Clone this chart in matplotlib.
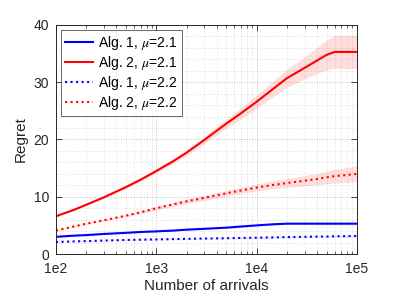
import matplotlib
matplotlib.use('Agg')
import matplotlib.pyplot as plt
import numpy as np

plt.rcParams['font.family'] = ['Liberation Sans', 'DejaVu Sans']
plt.rcParams['mathtext.fontset'] = 'stix'

# number of arrivals
arrivals = [100, 150, 200, 300, 500, 700, 1000, 1500, 2000, 3000, 5000, 7000,
            10000, 15000, 20000, 30000, 40000, 50000, 60000, 70000, 100000]

# mean regret
alg1_mu21 = [3.0, 3.2, 3.3, 3.5, 3.7, 3.85, 3.95, 4.1, 4.25, 4.4, 4.6, 4.8,
             5.0, 5.2, 5.3, 5.3, 5.3, 5.3, 5.3, 5.3, 5.3]
alg2_mu21 = [6.6, 7.7, 8.6, 9.9, 11.7, 13.0, 14.5, 16.3, 17.7, 19.9, 22.8, 24.6,
             26.6, 29.0, 30.7, 32.5, 33.8, 34.8, 35.3, 35.3, 35.3]
alg1_mu22 = [2.1, 2.2, 2.25, 2.35, 2.45, 2.5, 2.55, 2.6, 2.65, 2.7, 2.75, 2.8,
             2.85, 2.9, 2.95, 3.0, 3.05, 3.05, 3.1, 3.1, 3.15]
alg2_mu22 = [4.1, 4.8, 5.3, 5.9, 6.7, 7.3, 8.0, 8.7, 9.2, 9.8, 10.6, 11.1,
             11.6, 12.1, 12.4, 12.8, 13.1, 13.4, 13.6, 13.7, 14.0]

# half width of the shaded bands
alg1_mu21_err = [0.05, 0.05, 0.05, 0.06, 0.06, 0.07, 0.07, 0.08, 0.08, 0.09, 0.1, 0.1,
                 0.12, 0.13, 0.14, 0.15, 0.16, 0.17, 0.18, 0.18, 0.2]
alg2_mu21_err = [0.1, 0.12, 0.15, 0.18, 0.22, 0.26, 0.3, 0.4, 0.5, 0.6, 0.8, 1.0,
                 1.2, 1.4, 1.6, 1.9, 2.3, 2.6, 2.8, 2.9, 2.9]
alg1_mu22_err = [0.04, 0.04, 0.04, 0.05, 0.05, 0.05, 0.06, 0.06, 0.06, 0.07, 0.07, 0.08,
                 0.08, 0.09, 0.09, 0.1, 0.1, 0.1, 0.11, 0.11, 0.12]
alg2_mu22_err = [0.1, 0.12, 0.14, 0.17, 0.2, 0.25, 0.3, 0.35, 0.4, 0.45, 0.5, 0.55,
                 0.6, 0.7, 0.8, 0.9, 1.0, 1.1, 1.2, 1.25, 1.4]

series = [
    (alg1_mu21, alg1_mu21_err, 'b', '-', r'Alg. 1, $\mu$=2.1'),
    (alg2_mu21, alg2_mu21_err, 'r', '-', r'Alg. 2, $\mu$=2.1'),
    (alg1_mu22, alg1_mu22_err, 'b', ':', r'Alg. 1, $\mu$=2.2'),
    (alg2_mu22, alg2_mu22_err, 'r', ':', r'Alg. 2, $\mu$=2.2'),
]

fig = plt.figure(figsize=(3.99, 2.99), dpi=100)
ax = fig.add_axes([0.1404, 0.1505, 0.7543, 0.7659])

x = np.array(arrivals)
for vals, err, col, ls, lab in series:
    v = np.array(vals)
    e = np.array(err)
    ax.fill_between(x, v - e, v + e, color=col, alpha=0.13, lw=0)
for vals, err, col, ls, lab in series:
    ax.plot(x, vals, color=col, ls=ls, lw=1.5, label=lab)

ax.set_xscale('log')
ax.set_xlim(100, 100000)
ax.set_ylim(0, 40)
ax.set_xticks([100, 1000, 10000, 100000])
ax.set_xticklabels(['1e2', '1e3', '1e4', '1e5'])
ax.set_yticks([0, 10, 20, 30, 40])
ax.set_yticks(np.arange(0, 41, 2), minor=True)

ax.grid(True, which='major', ls=':', color='0.75', lw=0.7)
ax.grid(True, which='minor', ls=':', color='0.85', lw=0.6)
ax.set_axisbelow(True)

ax.tick_params(which='both', direction='in', top=True, right=True,
               colors='0.15', labelsize=10, labelcolor='0.15')
ax.tick_params(which='major', length=4, width=0.6)
ax.tick_params(which='minor', length=2, width=0.5)
ax.tick_params(axis='y', which='minor', length=0)
ax.tick_params(axis='x', which='major', pad=6)
ax.tick_params(axis='y', which='major', pad=5)
for s in ax.spines.values():
    s.set_color('0.15')
    s.set_linewidth(0.7)

ax.set_xlabel('Number of arrivals', fontsize=11, color='0.15', labelpad=2)
ax.set_ylabel('Regret', fontsize=11, color='0.15', labelpad=4)

leg = ax.legend(loc='upper left', fontsize=10, frameon=True, fancybox=False,
                handlelength=2.0, handletextpad=0.4, borderpad=0.3,
                labelspacing=0.15, borderaxespad=0.35)
leg.get_frame().set_edgecolor('0.15')
leg.get_frame().set_linewidth(0.6)

fig.savefig('out.png', dpi=100)
